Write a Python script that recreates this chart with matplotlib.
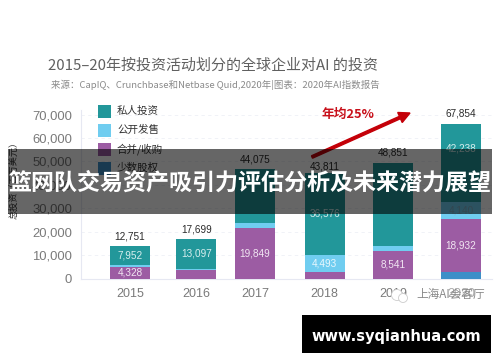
import matplotlib
matplotlib.use("Agg")
import matplotlib.pyplot as plt
from matplotlib.patches import Rectangle, FancyArrow, Circle

plt.rcParams['font.family'] = ['Liberation Sans', 'Noto Sans CJK SC', 'DejaVu Sans']
CJK = ['Noto Sans CJK SC', 'DejaVu Sans']

years = ['2015', '2016', '2017', '2018', '2019', '2020']
minority = [0, 0, 0, 0, 0, 2900]
merger = [4900, 3500, 21600, 2700, 11800, 22600]
public = [850, 700, 2100, 7300, 2300, 7400]
private = [8400, 12700, 23000, 35200, 35300, 32900]
totals = ['12,751', '17,699', '44,075', '43,811', '48,851', '67,854']
private_labels = ['7,952', '13,097', '', '36,576', '', '42,238']
public_labels = ['', '', '', '4,493', '', '4,140']
merger_labels = ['4,328', '', '19,849', '', '8,541', '18,932']
yticks = [0, 10000, 20000, 30000, 40000, 50000, 60000, 70000]
series_names = ['私人投资', '公开发售', '合并/收购', '少数股权']
title = '2015–20年按投资活动划分的全球企业对AI 的投资'
subtitle = '来源：CapIQ、Crunchbase和Netbase Quid,2020年|图表：2020年AI指数报告'
band_text = '篮网队交易资产吸引力评估分析及未来潜力展望'
site_text = 'www.syqianhua.com'

W, H = 500, 362
TEAL, BLUE, PURPLE, NAVY = '#22979a', '#70cdf0', '#9c5ca3', '#3d8fc8'
# layout: slightly uneven bar positions in the source picture
pos = [0, 1, 1.89, 2.94, 3.97, 5]
total_gap = [4000, 4200, 4300, 2600, 4300, 4700]
private_shift = [0, 0, 0, 0, 0, 6000]

fig = plt.figure(figsize=(W / 100, H / 100), dpi=100, facecolor='white')
x0, x1, ytop, ybase = 81, 492, 110, 278.7
ax = fig.add_axes([x0 / W, 1 - ybase / H, (x1 - x0) / W, (ybase - ytop) / H])
ax.set_facecolor('none')
unit = 66.2
ax.set_xlim((x0 - 130) / unit, (x1 - 130) / unit)
ax.set_ylim(0, (ybase - ytop) / 23.45 * 10000)

bw = 40 / unit
bottom = [0] * 6
for vals, col in [(minority, NAVY), (merger, PURPLE), (public, BLUE), (private, TEAL)]:
    ax.bar(pos, vals, bw, bottom=bottom, color=col, edgecolor='none', zorder=3)
    bottom = [b + v for b, v in zip(bottom, vals)]

for i in range(6):
    m0 = minority[i]
    if merger_labels[i]:
        yy = m0 + merger[i] / 2
        ax.text(pos[i], yy, merger_labels[i], color='#f1e6f2', ha='center', va='center', fontsize=7.2, zorder=4)
    if public_labels[i]:
        yy = m0 + merger[i] + public[i] / 2
        ax.text(pos[i], yy, public_labels[i], color='#e8f7fd' if i == 3 else '#7fb0c6', ha='center', va='center', fontsize=7.2, zorder=4)
    if private_labels[i]:
        yy = m0 + merger[i] + public[i] + private[i] / 2 + private_shift[i]
        ax.text(pos[i], yy, private_labels[i], color='#d7eeee', ha='center', va='center', fontsize=7.2, zorder=4)
    ax.text(pos[i], bottom[i] + total_gap[i], totals[i], color='#2b2b2b', ha='center', va='center', fontsize=7.2, zorder=4)

ax.set_yticks(yticks)
ax.set_yticklabels([f'{v:,}' for v in yticks], fontsize=9.4, color='#7a7a7a')
ax.set_xticks(pos)
ax.set_xticklabels(years, fontsize=9, color='#7a7a7a')
ax.tick_params(length=0, axis='both')
ax.tick_params(axis='x', pad=6.5)
ax.tick_params(axis='y', pad=6.5)
ax.grid(axis='y', color='#eef0f6', lw=0.6, ls=(0, (4, 4)), zorder=0)
for s in ['top', 'right']:
    ax.spines[s].set_visible(False)
ax.spines['left'].set_color('#e6e8f2')
ax.spines['bottom'].set_color('#e6e8f2')

# overlay in pixel coordinates
ov = fig.add_axes([0, 0, 1, 1], facecolor='none')
ov.set_xlim(0, W)
ov.set_ylim(H, 0)
ov.axis('off')

ov.text(48, 66, title, family=CJK, fontsize=10.8, color='#606060', va='center', ha='left', weight='medium')
ov.text(51, 84.5, subtitle, family=CJK, fontsize=6.8, color='#8a8a8a', va='center', ha='left')

for name, col, yy in zip(series_names, [TEAL, BLUE, PURPLE, NAVY], [111, 130, 149, 168]):
    ov.add_patch(Rectangle((98, yy - 6.5), 13, 13, facecolor=col, edgecolor='none'))
    ov.text(117, yy, name, family=CJK, fontsize=7.6, color='#333333', va='center', ha='left', weight='medium')

ov.text(14, 178, '总投资（百万美元）', family=CJK, fontsize=6.6, color='#333333', rotation=90, va='center', ha='center')

ov.add_patch(FancyArrow(312, 157, 98, -44, width=2.6, head_width=11, head_length=11,
                        length_includes_head=True, color='#c40008', zorder=5))
ov.text(348, 114.5, '年均25%', family=CJK, fontsize=9.2, color='#c8101a', weight='bold', va='center', ha='center')

# watermark
ov.add_patch(Circle((397, 295), 5.5, facecolor='white', edgecolor='#cccccc', lw=0.6, zorder=6))
ov.add_patch(Circle((403, 298), 4.5, facecolor='white', edgecolor='#cccccc', lw=0.6, zorder=6))
ov.text(416, 294, '上海AI会客厅', family=CJK, fontsize=8.4, color='#8a8a8a', va='center', ha='left', zorder=6,
        bbox=dict(facecolor='white', alpha=0.35, edgecolor='none', pad=0.5))

# banner
ov.add_patch(Rectangle((8, 149), 484, 64.7, facecolor='black', alpha=0.6, edgecolor='none', zorder=7))
ov.text(250, 183, band_text, family=CJK, fontsize=16.6, color='white', weight='bold', va='center', ha='center', zorder=8)

# site box
ov.add_patch(Rectangle((302, 315), 189, 38, facecolor='black', edgecolor='none', zorder=7))
ov.text(396.5, 336, site_text, family=['DejaVu Sans'], fontsize=10.5, color='white', weight='bold', va='center', ha='center', zorder=8)

fig.savefig('out.png', dpi=100)
